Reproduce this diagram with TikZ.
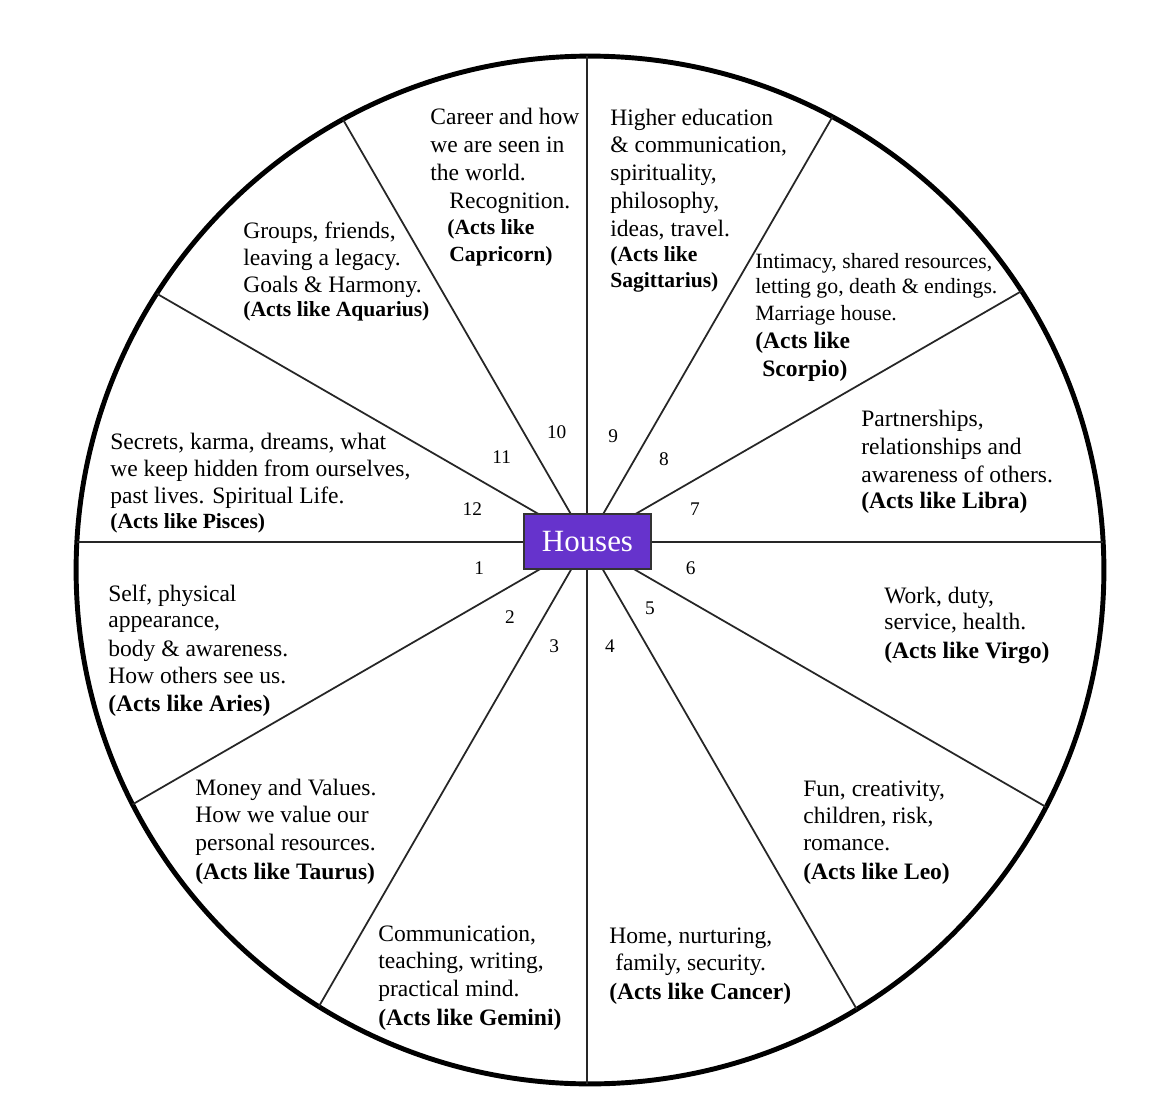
\documentclass[tikz,border=0pt]{standalone}
\usepackage{fontspec}
\setmainfont{Liberation Serif}
\definecolor{housepurple}{RGB}{102,51,204}
\begin{document}
\begin{tikzpicture}[x=0.02cm,y=-0.02cm,
  reg/.style={anchor=base west,inner sep=0pt,font=\fontsize{13.4}{16}\selectfont},
  regs/.style={anchor=base west,inner sep=0pt,font=\fontsize{12.4}{15}\selectfont},
  bld/.style={anchor=base west,inner sep=0pt,font=\fontsize{13.4}{16}\selectfont\bfseries},
  blds/.style={anchor=base west,inner sep=0pt,font=\fontsize{12.3}{15}\selectfont\bfseries},
  num/.style={inner sep=0pt,font=\fontsize{11}{13}\selectfont},
  spoke/.style={line width=1pt,black!85},
  rim/.style={line width=2.8pt,black}]
\useasboundingbox (0,0) rectangle (1150,1106);
\fill[white] (0,0) rectangle (1150,1106);
% wheel
\draw[rim] (590,570) circle [radius=10.28cm];
\coordinate (c) at (587,542);
\coordinate (e0) at (1103,542);
\coordinate (e1) at (1021.7,291);
\coordinate (e2) at (832.5,116.8);
\coordinate (e3) at (587,56);
\coordinate (e4) at (342.9,119.3);
\coordinate (e5) at (156.7,293.6);
\coordinate (e6) at (77,542);
\coordinate (e7) at (132.5,804.4);
\coordinate (e8) at (318.8,1006.6);
\coordinate (e9) at (587,1084);
\coordinate (e10) at (856.8,1009.3);
\coordinate (e11) at (1046.1,807);
\foreach \k in {0,...,11} {\draw[spoke] (c) -- (e\k);}
\node[draw=black!80,line width=0.8pt,fill=housepurple,text=white,
  minimum width=2.54cm,minimum height=1.1cm,inner sep=0pt,
  font=\fontsize{17.6}{20}\selectfont] (houses) at (587.5,541.5) {Houses};
% numbers
\node[num] (n10) at (556.7,432.3) {10};
\node[num] (n9) at (613.3,436) {9};
\node[num] (n11) at (501.7,457.3) {11};
\node[num] (n8) at (664,459.3) {8};
\node[num] (n12) at (472.3,509) {12};
\node[num] (n7) at (695,509) {7};
\node[num] (n1) at (479.3,567.7) {1};
\node[num] (n6) at (690.7,567.7) {6};
\node[num] (n2) at (510,617.3) {2};
\node[num] (n5) at (650,608.3) {5};
\node[num] (n3) at (554.3,645.7) {3};
\node[num] (n4) at (610,645.7) {4};
% house 10
\node[reg] (a1) at (430,124) {Career and how};
\node[reg] (a2) at (430,152) {we are seen in};
\node[reg] (a3) at (430,180) {the world.};
\node[reg] (a4) at (449,208) {Recognition.};
\node[blds] (a5) at (447,234) {(Acts like};
\node[blds] (a6) at (449,261) {Capricorn)};
% house 9
\node[reg] (b1) at (610,125) {Higher education};
\node[reg] (b2) at (610,152) {\& communication,};
\node[reg] (b3) at (610,180) {spirituality,};
\node[reg] (b4) at (610,208) {philosophy,};
\node[reg] (b5) at (610,236) {ideas, travel.};
\node[blds] (b6) at (610,261.5) {(Acts like};
\node[blds] (b7) at (610,287.5) {Sagittarius)};
% house 8
\node[regs] (c1) at (755,268) {Intimacy, shared resources,};
\node[regs] (c2) at (755,293.5) {letting go, death \& endings.};
\node[regs] (c3) at (755,320) {Marriage house.};
\node[bld] (c4) at (755,348) {(Acts like};
\node[bld] (c5) at (762,376) {Scorpio)};
% house 11
\node[reg] (d1) at (243,238.5) {Groups, friends,};
\node[reg] (d2) at (243,265) {leaving a legacy.};
\node[reg] (d3) at (243,292) {Goals \& Harmony.};
\node[blds] (d4) at (243,316) {(Acts like Aquarius)};
% house 7
\node[reg] (f1) at (861,426.5) {Partnerships,};
\node[reg] (f2) at (861,454.5) {relationships and};
\node[reg] (f3) at (861,482.5) {awareness of others.};
\node[bld] (f4) at (861,508.5) {(Acts like Libra)};
% house 12
\node[reg] (g1) at (110,449.5) {Secrets, karma, dreams, what};
\node[reg] (g2) at (110,476) {we keep hidden from ourselves,};
\node[reg] (g3) at (110,503.5) {past lives. Spiritual Life.};
\node[blds] (g4) at (110,528.5) {(Acts like Pisces)};
% house 1
\node[reg] (h1) at (108,601) {Self, physical};
\node[reg] (h2) at (108,627.5) {appearance,};
\node[reg] (h3) at (108,656) {body \& awareness.};
\node[reg] (h4) at (108,683.5) {How others see us.};
\node[bld] (h5) at (108,711.5) {(Acts like Aries)};
% house 6
\node[reg] (k1) at (884,603) {Work, duty,};
\node[reg] (k2) at (884,629) {service, health.};
\node[bld] (k3) at (884,658) {(Acts like Virgo)};
% house 5
\node[reg] (l1) at (803,796) {Fun, creativity,};
\node[reg] (l2) at (803,823) {children, risk,};
\node[reg] (l3) at (803,850) {romance.};
\node[bld] (l4) at (803,879) {(Acts like Leo)};
% house 4
\node[reg] (m1) at (609,943) {Home, nurturing,};
\node[reg] (m2) at (615,970) {family, security.};
\node[bld] (m3) at (609,999) {(Acts like Cancer)};
% house 3
\node[reg] (p1) at (378,941) {Communication,};
\node[reg] (p2) at (378,968) {teaching, writing,};
\node[reg] (p3) at (378,996) {practical mind.};
\node[bld] (p4) at (378,1025) {(Acts like Gemini)};
% house 2
\node[reg] (q1) at (195,795) {Money and Values.};
\node[reg] (q2) at (195,822) {How we value our};
\node[reg] (q3) at (195,850) {personal resources.};
\node[bld] (q4) at (195,879) {(Acts like Taurus)};
\end{tikzpicture}
\end{document}
